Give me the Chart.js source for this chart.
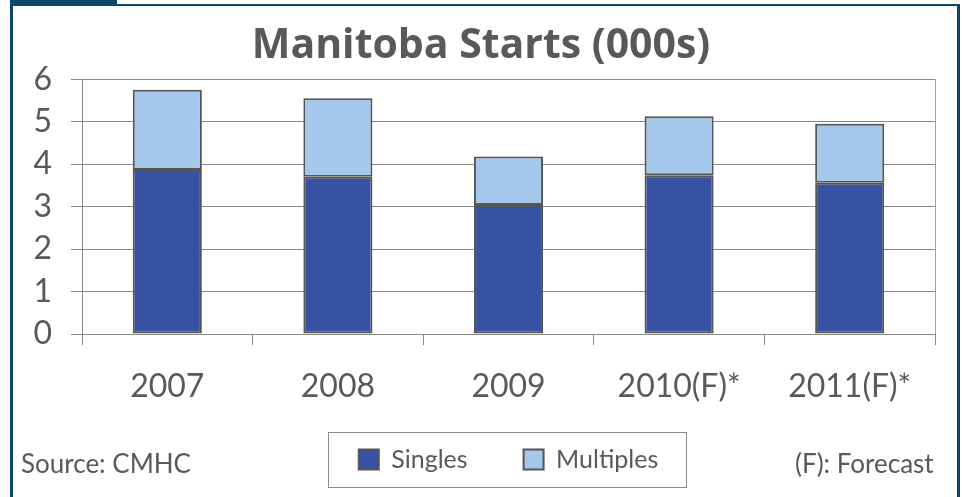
<!DOCTYPE html>
<html>
<head>
<meta charset="utf-8">
<script src="https://cdn.jsdelivr.net/npm/chart.js@4.4.1/dist/chart.umd.min.js"></script>
<style>
  html, body { margin: 0; padding: 0; background: #ffffff; }
  body { width: 962px; height: 497px; position: relative; overflow: hidden; }
  #wrap { position: absolute; left: 0; top: 0; width: 962px; height: 497px; }
  .frame { position: absolute; background: #0c476b; }
  .note { position: absolute; font-family: Lato, "Open Sans", sans-serif; font-size: 26px; color: #58595b; white-space: nowrap; line-height: 1; }
</style>
</head>
<body>
<div id="wrap"><canvas id="c" width="962" height="497"></canvas></div>
<div class="frame" style="left:10px;top:0;width:107px;height:5px;"></div>
<div class="frame" style="left:10px;top:4px;width:950px;height:2px;"></div>
<div class="frame" style="left:10px;top:4px;width:3px;height:493px;"></div>
<div class="frame" style="left:957px;top:4px;width:3px;height:493px;"></div>
<div class="note" style="left:21px;top:450px;">Source: CMHC</div>
<div class="note" style="left:795px;top:450px;">(F): Forecast</div>
<script>
const categories = ["2007", "2008", "2009", "2010(F)*", "2011(F)*"];
const singles = [3.86, 3.70, 3.04, 3.74, 3.56];
const multiples = [1.89, 1.85, 1.14, 1.39, 1.39];
const seriesNames = ["Singles", "Multiples"];
const yTicks = [0, 1, 2, 3, 4, 5, 6];
const chartTitle = "Manitoba Starts (000s)";

const textGray = "#58595b";
const gridGray = "#8a8a8a";

const framePlugin = {
  id: "framePlugin",
  afterDraw(chart) {
    const ctx = chart.ctx;
    const a = chart.chartArea;
    ctx.save();
    ctx.strokeStyle = "#a6a6a6";
    ctx.lineWidth = 1;
    ctx.beginPath();
    ctx.moveTo(Math.round(a.right) + 0.5, a.top);
    ctx.lineTo(Math.round(a.right) + 0.5, a.bottom);
    ctx.stroke();
    // legend border box
    const lg = chart.legend;
    if (lg && lg.legendHitBoxes && lg.legendHitBoxes.length) {
      let minX = Infinity, maxX = -Infinity, minY = Infinity;
      lg.legendHitBoxes.forEach(h => {
        minX = Math.min(minX, h.left);
        maxX = Math.max(maxX, h.left + h.width);
        minY = Math.min(minY, h.top);
      });
      ctx.strokeStyle = "#8a8a8a";
      ctx.lineWidth = 1;
      const x0 = Math.round(minX - 31) + 0.5;
      const x1 = Math.round(maxX + 28) + 0.5;
      const y0 = Math.round(minY - 15) + 0.5;
      const y1 = Math.round(minY + 40) + 0.5;
      ctx.strokeRect(x0, y0, x1 - x0, y1 - y0);
    }
    ctx.restore();
  }
};

new Chart(document.getElementById("c"), {
  type: "bar",
  data: {
    labels: categories,
    datasets: [
      {
        label: seriesNames[0],
        data: singles,
        backgroundColor: "#3752a2",
        borderColor: "#555555",
        borderWidth: 2,
        borderSkipped: false,
        categoryPercentage: 1,
        barPercentage: 0.405
      },
      {
        label: seriesNames[1],
        data: multiples,
        backgroundColor: "#a3c8eb",
        borderColor: "#555555",
        borderWidth: 2,
        borderSkipped: false,
        categoryPercentage: 1,
        barPercentage: 0.405
      }
    ]
  },
  options: {
    responsive: false,
    animation: false,
    devicePixelRatio: 1,
    layout: { padding: { left: 27, right: 27, top: 0, bottom: 15 } },
    plugins: {
      title: {
        display: true,
        text: chartTitle,
        color: textGray,
        font: { family: "'Open Sans'", size: 41, weight: "bold", lineHeight: 1.2 },
        padding: { top: 22, bottom: 8 }
      },
      legend: {
        display: true,
        position: "bottom",
        fullSize: false,
        labels: {
          color: textGray,
          font: { family: "Lato", size: 25 },
          boxWidth: 20,
          boxHeight: 20,
          padding: 56
        }
      },
      tooltip: { enabled: false }
    },
    scales: {
      x: {
        stacked: true,
        grid: { drawOnChartArea: false, drawTicks: true, tickLength: 11, color: gridGray, offset: true },
        border: { display: true, color: gridGray, width: 1 },
        ticks: { color: textGray, font: { family: "Lato", size: 32 }, padding: 22, maxRotation: 0 },
        afterFit(scale) {
          scale.height = 57;
          scale._computeLabelArea = function () { return undefined; };
        }
      },
      y: {
        stacked: true,
        min: yTicks[0],
        max: yTicks[yTicks.length - 1],
        afterBuildTicks(scale) { scale.ticks = yTicks.map(v => ({ value: v })); },
        grid: { drawOnChartArea: true, drawTicks: true, tickLength: 11, color: gridGray },
        border: { display: true, color: gridGray, width: 1 },
        ticks: { color: textGray, font: { family: "Lato", size: 32 }, padding: 19 },
        afterFit(scale) { scale.width = 55; }
      }
    }
  },
  plugins: [framePlugin]
});
</script>
</body>
</html>
